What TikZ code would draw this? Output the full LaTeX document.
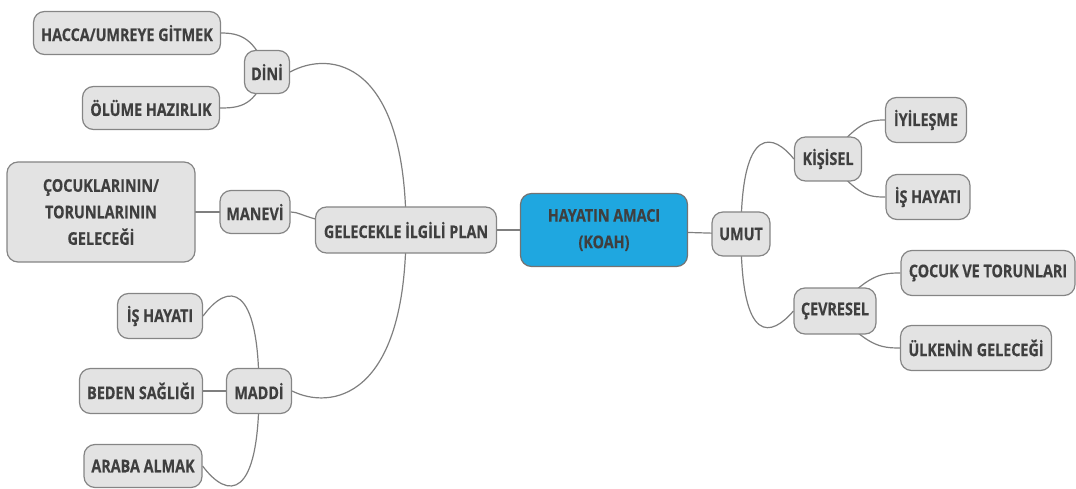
\documentclass[tikz,border=0pt]{standalone}
\usepackage{fontspec}
\setmainfont{Open Sans}[FakeStretch=0.82, BoldFeatures={FakeBold=0.4}]
\usetikzlibrary{backgrounds}
\definecolor{nodefill}{HTML}{E3E3E3}
\definecolor{nodeline}{HTML}{858585}
\definecolor{txt}{HTML}{3F3F3F}
\definecolor{linkc}{HTML}{7F7F7F}
\definecolor{central}{HTML}{1FA7E0}
\begin{document}
\begin{tikzpicture}[x=1pt,y=-1pt,
  box/.style={draw=nodeline, fill=nodefill, rounded corners=11pt, line width=1.2pt,
    text=txt, font=\bfseries\fontsize{17.5}{26.5}\selectfont, inner sep=0pt, align=center},
  link/.style={draw=linkc, line width=1.2pt}]
\useasboundingbox (0,0) rectangle (1076,489);
% center
\node[box, fill=central, draw=gray!90!black, minimum width=167pt, minimum height=73pt] (hayat) at (604,230) {HAYATIN AMACI\\(KOAH)};
% left branch
\node[box, minimum width=181pt, minimum height=46pt] (gel) at (406,230) {GELECEKLE İLGİLİ PLAN};
\node[box, minimum width=45pt, minimum height=43pt] (dini) at (267,72) {DİNİ};
\node[box, minimum width=187pt, minimum height=43pt] (hacca) at (127,33) {HACCA/UMREYE GİTMEK};
\node[box, minimum width=137pt, minimum height=43pt] (olum) at (151,108) {ÖLÜME HAZIRLIK};
\node[box, minimum width=70pt, minimum height=43pt] (manevi) at (255,212) {MANEVİ};
\node[box, minimum width=188pt, minimum height=100pt] (cocuklar) at (101,212) {ÇOCUKLARININ/\\TORUNLARININ\\GELECEĞİ};
\node[box, minimum width=65pt, minimum height=45pt] (maddi) at (259,391) {MADDİ};
\node[box, minimum width=85pt, minimum height=45pt] (isl) at (160,316) {İŞ HAYATI};
\node[box, minimum width=123pt, minimum height=45pt] (beden) at (141,391) {BEDEN SAĞLIĞI};
\node[box, minimum width=118pt, minimum height=43pt] (araba) at (143,466) {ARABA ALMAK};
% right branch
\node[box, minimum width=58pt, minimum height=44pt] (umut) at (741,234) {UMUT};
\node[box, minimum width=67pt, minimum height=44pt] (kisisel) at (828,159) {KİŞİSEL};
\node[box, minimum width=81pt, minimum height=45pt] (iyi) at (926,120) {İYİLEŞME};
\node[box, minimum width=84pt, minimum height=45pt] (isr) at (928,197) {İŞ HAYATI};
\node[box, minimum width=82pt, minimum height=46pt] (cevre) at (835,311) {ÇEVRESEL};
\node[box, minimum width=174pt, minimum height=45pt] (cocuk) at (988,273) {ÇOCUK VE TORUNLARI};
\node[box, minimum width=151pt, minimum height=45pt] (ulke) at (976,348) {ÜLKENİN GELECEĞİ};
\begin{scope}[on background layer]
\draw[link] (hayat.center) -- (gel.center);
\draw[link] (hayat.center) -- (umut.center);
\draw[link] (gel.center) .. controls (406,60) and (330,50) .. (dini.east);
\draw[link] (gel.center) .. controls (406,400) and (330,410) .. (maddi.east);
\draw[link] (manevi.east) .. controls (305,212) and (305,225) .. (gel.center);
\draw[link] (manevi.center) -- (cocuklar.center);
\draw[link] (dini.center) .. controls (255,38) and (240,33) .. (hacca.east);
\draw[link] (dini.center) .. controls (255,106) and (240,108) .. (olum.east);
\draw[link] (maddi.center) .. controls (259,282) and (228,282) .. (isl.east);
\draw[link] (maddi.center) -- (beden.center);
\draw[link] (maddi.center) .. controls (259,500) and (228,500) .. (araba.east);
\draw[link] (umut.center) .. controls (741,120) and (775,135) .. (kisisel.west);
\draw[link] (umut.center) .. controls (741,348) and (772,336) .. (cevre.west);
\draw[link] (kisisel.center) .. controls (858,122) and (868,120) .. (iyi.west);
\draw[link] (kisisel.center) .. controls (858,196) and (868,197) .. (isr.west);
\draw[link] (cevre.center) .. controls (868,275) and (880,273) .. (cocuk.west);
\draw[link] (cevre.center) .. controls (868,346) and (880,348) .. (ulke.west);
\end{scope}
\end{tikzpicture}
\end{document}
